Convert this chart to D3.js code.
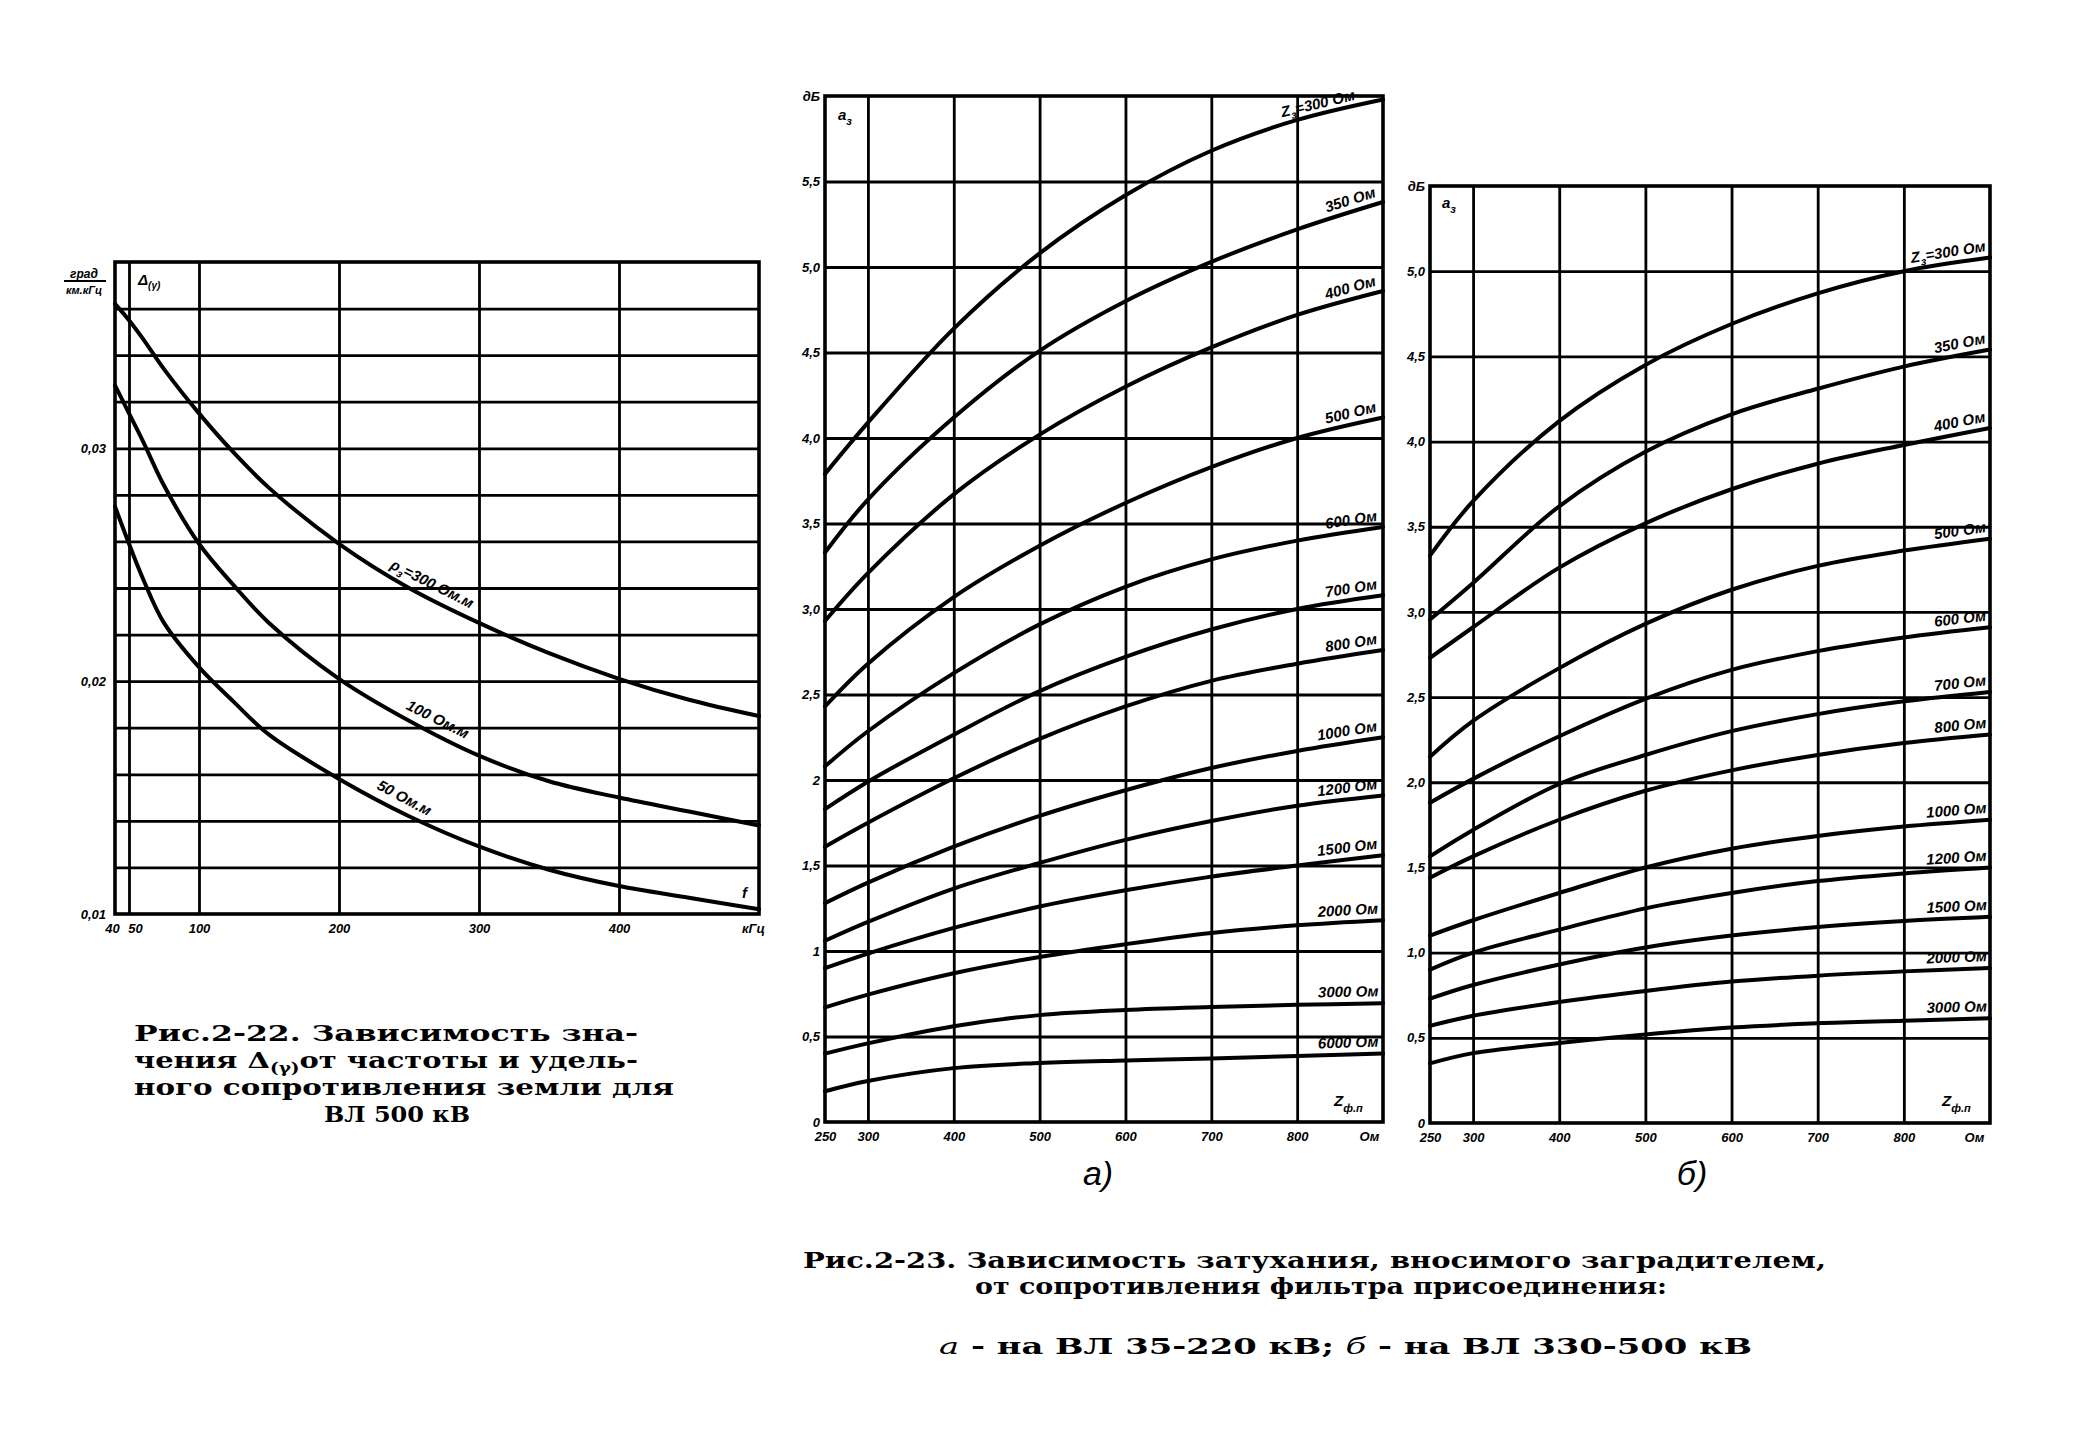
<!DOCTYPE html>
<html><head><meta charset="utf-8">
<script src="https://cdn.jsdelivr.net/npm/d3@7"></script>
<style>
html,body{margin:0;padding:0;background:#fff;}
svg{display:block;}
.tk text{font-family:"Liberation Sans",Arial,sans-serif;font-style:italic;font-weight:bold;font-size:13px;fill:#000;}
.lbl{font-family:"Liberation Sans",Arial,sans-serif;font-style:italic;font-weight:bold;font-size:15px;fill:#000;}
.cap{font-family:"DejaVu Serif",serif;font-weight:bold;font-size:22px;fill:#000;}
.sub{font-family:"Liberation Sans",Arial,sans-serif;font-style:italic;font-size:34px;fill:#000;}
</style></head><body>
<svg id="c" width="2094" height="1452"></svg>
<script>
// ---------- Fig. 2-22 : Δ(γ) vs frequency ----------
const freqKHz   = [40, 50, 60, 75, 100, 125, 150, 200, 250, 300, 350, 400, 450, 500];
const delta300  = [0.0362,0.0355,0.0347,0.0334,0.0315,0.0298,0.0283,0.0259,0.0240,0.0225,0.0212,0.0201,0.0192,0.0185];
const delta100  = [0.0327,0.0315,0.0303,0.0284,0.0259,0.0241,0.0225,0.0201,0.0183,0.0168,0.0157,0.0150,0.0144,0.0138];
const delta50   = [0.0275,0.0259,0.0244,0.0225,0.0206,0.0191,0.0177,0.0158,0.0142,0.0129,0.0119,0.0112,0.0107,0.0102];
const fig22Names = ["300 Ом.м", "100 Ом.м", "50 Ом.м"];
const fig22XTicks = [40, 50, 100, 200, 300, 400, 500];
const fig22XLabels = ["40", "50", "100", "200", "300", "400", "кГц"];
const fig22XGrid = [50, 100, 200, 300, 400];
const fig22YTicks = [0.01, 0.02, 0.03];
const fig22YLabels = ["0,01", "0,02", "0,03"];

// ---------- Fig. 2-23 a) : 35-220 kV ----------
const zfp = [250, 300, 400, 500, 600, 700, 800, 900];
const aNames = ["300 Ом","350 Ом","400 Ом","500 Ом","600 Ом","700 Ом","800 Ом","1000 Ом","1200 Ом","1500 Ом","2000 Ом","3000 Ом","6000 Ом"];
const a300  = [3.79, 4.09, 4.64, 5.08, 5.42, 5.68, 5.86, 5.98];
const a350  = [3.33, 3.64, 4.12, 4.51, 4.80, 5.03, 5.22, 5.38];
const a400  = [2.93, 3.21, 3.67, 4.02, 4.30, 4.53, 4.72, 4.86];
const a500  = [2.43, 2.68, 3.07, 3.37, 3.62, 3.83, 4.00, 4.12];
const a600  = [2.08, 2.285, 2.625, 2.91, 3.13, 3.29, 3.40, 3.48];
const a700  = [1.83, 1.99, 2.265, 2.52, 2.72, 2.88, 3.00, 3.08];
const a800  = [1.61, 1.75, 2.01, 2.24, 2.43, 2.58, 2.68, 2.76];
const a1000 = [1.28, 1.40, 1.61, 1.79, 1.94, 2.07, 2.17, 2.25];
const a1200 = [1.06, 1.17, 1.365, 1.515, 1.65, 1.76, 1.85, 1.91];
const a1500 = [0.90, 0.985, 1.135, 1.26, 1.355, 1.435, 1.50, 1.56];
const a2000 = [0.67, 0.745, 0.87, 0.965, 1.04, 1.105, 1.15, 1.18];
const a3000 = [0.40, 0.46, 0.56, 0.625, 0.655, 0.672, 0.685, 0.695];
const a6000 = [0.18, 0.24, 0.315, 0.345, 0.36, 0.372, 0.386, 0.40];

// ---------- Fig. 2-23 б) : 330-500 kV ----------
const bNames = ["300 Ом","350 Ом","400 Ом","500 Ом","600 Ом","700 Ом","800 Ом","1000 Ом","1200 Ом","1500 Ом","2000 Ом","3000 Ом"];
const b300  = [3.33, 3.65, 4.12, 4.45, 4.69, 4.87, 5.00, 5.08];
const b350  = [2.955, 3.17, 3.62, 3.94, 4.16, 4.31, 4.44, 4.54];
const b400  = [2.73, 2.91, 3.26, 3.52, 3.72, 3.87, 3.98, 4.08];
const b500  = [2.15, 2.36, 2.67, 2.93, 3.13, 3.27, 3.36, 3.43];
const b600  = [1.88, 2.02, 2.27, 2.49, 2.66, 2.77, 2.85, 2.91];
const b700  = [1.565, 1.72, 1.99, 2.16, 2.30, 2.40, 2.475, 2.53];
const b800  = [1.44, 1.565, 1.78, 1.95, 2.07, 2.16, 2.23, 2.28];
const b1000 = [1.10, 1.19, 1.35, 1.50, 1.61, 1.685, 1.74, 1.78];
const b1200 = [0.90, 1.00, 1.135, 1.26, 1.35, 1.42, 1.465, 1.50];
const b1500 = [0.73, 0.81, 0.93, 1.03, 1.10, 1.15, 1.185, 1.21];
const b2000 = [0.57, 0.63, 0.71, 0.775, 0.83, 0.865, 0.89, 0.91];
const b3000 = [0.35, 0.41, 0.47, 0.52, 0.56, 0.585, 0.60, 0.615];

const zXTicks = [250, 300, 400, 500, 600, 700, 800, 900];
const zXLabels = ["250", "300", "400", "500", "600", "700", "800", "Ом"];
const zXGrid = [300, 400, 500, 600, 700, 800];
const aYTicks = [0,0.5,1,1.5,2,2.5,3,3.5,4,4.5,5,5.5,6];
const aYLabels = ["0","0,5","1","1,5","2","2,5","3,0","3,5","4,0","4,5","5,0","5,5","дБ"];
const bYTicks = [0,0.5,1,1.5,2,2.5,3,3.5,4,4.5,5,5.5];
const bYLabels = ["0","0,5","1,0","1,5","2,0","2,5","3,0","3,5","4,0","4,5","5,0","дБ"];

// ================= drawing =================
const svg = d3.select("#c");
svg.append("rect").attr("width", 2094).attr("height", 1452).attr("fill", "#fff");

function drawPanel(cfg) {
  const {x, y, xGrid, yGrid, xTicks, xLabels, yTicks, yLabels} = cfg;
  const g = svg.append("g");
  const [x0, x1] = x.range(), [yb, yt] = y.range();
  g.append("g").attr("transform", `translate(0,${yb})`)
    .call(d3.axisBottom(x).tickValues(xGrid).tickSize(-(yb - yt)).tickFormat(""))
    .call(s => s.select(".domain").remove())
    .selectAll("line").attr("stroke", "#000").attr("stroke-width", 2.8);
  g.append("g").attr("transform", `translate(${x0},0)`)
    .call(d3.axisLeft(y).tickValues(yGrid).tickSize(-(x1 - x0)).tickFormat(""))
    .call(s => s.select(".domain").remove())
    .selectAll("line").attr("stroke", "#000").attr("stroke-width", 2.8);
  g.append("rect").attr("x", x0).attr("y", yt).attr("width", x1 - x0).attr("height", yb - yt)
    .attr("fill", "none").attr("stroke", "#000").attr("stroke-width", 3.6);
  const xa = g.append("g").attr("class", "tk").attr("transform", `translate(0,${yb})`)
    .call(d3.axisBottom(x).tickValues(xTicks).tickSize(0).tickPadding(10)
      .tickFormat((d, i) => xLabels[i]));
  xa.select(".domain").remove();
  const ya = g.append("g").attr("class", "tk").attr("transform", `translate(${x0},0)`)
    .call(d3.axisLeft(y).tickValues(yTicks).tickSize(0).tickPadding(5)
      .tickFormat((d, i) => yLabels[i]));
  ya.select(".domain").remove();
  return {g, xa, ya};
}

function drawCurves(g, x, y, xs, series) {
  const line = d3.line().x((d, i) => x(xs[i])).y(d => y(d)).curve(d3.curveCatmullRom.alpha(0.5));
  g.selectAll(null).data(series).enter().append("path")
    .attr("d", d => line(d)).attr("fill", "none").attr("stroke", "#000")
    .attr("stroke-width", 4).attr("stroke-linejoin", "round").attr("stroke-linecap", "round");
}

function interp(xs, ys, v) {
  let i = 0;
  while (i < xs.length - 2 && v > xs[i + 1]) i++;
  const t = (v - xs[i]) / (xs[i + 1] - xs[i]);
  return {val: ys[i] + t * (ys[i + 1] - ys[i]), i};
}

function curveLabel(g, x, y, xs, ys, at, anchor, parts, lift) {
  const {val, i} = interp(xs, ys, at);
  const px = x(at), py = y(val);
  const ang = Math.atan2(y(ys[i + 1]) - y(ys[i]), x(xs[i + 1]) - x(xs[i])) * 180 / Math.PI;
  const t = g.append("text").attr("class", "lbl").attr("text-anchor", anchor)
    .attr("transform", `translate(${px},${py}) rotate(${ang}) translate(0,${-lift})`);
  parts.forEach(p => {
    const s = t.append("tspan").text(p.t);
    if (p.sub) s.attr("font-size", 11).attr("dy", 4);
    if (p.back) s.attr("dy", -4);
  });
  return t;
}

// ---- Fig 2-22 ----
const x1 = d3.scaleLinear().domain([40, 500]).range([115, 759]);
const y1 = d3.scaleLinear().domain([0.01, 0.038]).range([914, 262]);
const p1 = drawPanel({x: x1, y: y1, xGrid: fig22XGrid,
  yGrid: d3.range(6, 19).map(k => +(k * 0.002).toFixed(3)),
  xTicks: fig22XTicks, xLabels: fig22XLabels, yTicks: fig22YTicks, yLabels: fig22YLabels});
p1.xa.selectAll(".tick").filter((d) => d === 40).select("text").attr("dx", -3);
p1.xa.selectAll(".tick").filter((d) => d === 50).select("text").attr("dx", 6);
p1.xa.selectAll(".tick").filter((d) => d === 500).select("text").attr("dx", -6);
p1.ya.selectAll("text").attr("dx", -4);
const fig22Series = [delta300, delta100, delta50];
drawCurves(p1.g, x1, y1, freqKHz, fig22Series);
curveLabel(p1.g, x1, y1, freqKHz, delta300, 262, "middle",
  [{t: "ρ"}, {t: "з", sub: true}, {t: "=" + fig22Names[0], back: true}], 9);
curveLabel(p1.g, x1, y1, freqKHz, delta100, 266, "middle", [{t: fig22Names[1]}], 9);
curveLabel(p1.g, x1, y1, freqKHz, delta50, 242, "middle", [{t: fig22Names[2]}], 9);
const ua = p1.g.append("g").attr("class", "lbl");
ua.append("text").attr("x", 84).attr("y", 278).attr("text-anchor", "middle").attr("font-size", 12).text("град");
ua.append("line").attr("x1", 64).attr("x2", 106).attr("y1", 281).attr("y2", 281).attr("stroke", "#000").attr("stroke-width", 2);
ua.append("text").attr("x", 84).attr("y", 294).attr("text-anchor", "middle").attr("font-size", 11).text("км.кГц");
const dl = p1.g.append("text").attr("class", "lbl").attr("x", 138).attr("y", 285).attr("font-size", 15);
dl.append("tspan").text("Δ");
dl.append("tspan").attr("font-size", 10).attr("dy", 4).text("(γ)");
p1.g.append("text").attr("class", "lbl").attr("x", 742).attr("y", 898).attr("font-size", 16).text("f");

// ---- Fig 2-23 a ----
const x2 = d3.scaleLinear().domain([250, 900]).range([825, 1383]);
const y2 = d3.scaleLinear().domain([0, 6]).range([1122, 96]);
const p2 = drawPanel({x: x2, y: y2, xGrid: zXGrid, yGrid: d3.range(1, 12).map(k => k * 0.5),
  xTicks: zXTicks, xLabels: zXLabels, yTicks: aYTicks, yLabels: aYLabels});
p2.xa.selectAll(".tick").filter(d => d === 900).select("text").attr("dx", -14);
const aSeries = [a300, a350, a400, a500, a600, a700, a800, a1000, a1200, a1500, a2000, a3000, a6000];
drawCurves(p2.g, x2, y2, zfp, aSeries);
aSeries.forEach((s, k) => {
  if (k === 0) curveLabel(p2.g, x2, y2, zfp, s, 870, "end",
    [{t: "Z"}, {t: "з", sub: true}, {t: "=" + aNames[0], back: true}], 6);
  else curveLabel(p2.g, x2, y2, zfp, s, 895, "end", [{t: aNames[k]}], 7);
});
const az = p2.g.append("text").attr("class", "lbl").attr("x", 838).attr("y", 120).attr("font-size", 16);
az.append("tspan").text("a"); az.append("tspan").attr("font-size", 11).attr("dy", 5).text("з");
const zf2 = p2.g.append("text").attr("class", "lbl").attr("x", 1334).attr("y", 1106).attr("font-size", 16);
zf2.append("tspan").text("Z"); zf2.append("tspan").attr("font-size", 11).attr("dy", 6).text("ф.п");

// ---- Fig 2-23 b ----
const x3 = d3.scaleLinear().domain([250, 900]).range([1430, 1990]);
const y3 = d3.scaleLinear().domain([0, 5.5]).range([1123, 186]);
const p3 = drawPanel({x: x3, y: y3, xGrid: zXGrid, yGrid: d3.range(1, 11).map(k => k * 0.5),
  xTicks: zXTicks, xLabels: zXLabels, yTicks: bYTicks, yLabels: bYLabels});
p3.xa.selectAll(".tick").filter(d => d === 900).select("text").attr("dx", -16);
const bSeries = [b300, b350, b400, b500, b600, b700, b800, b1000, b1200, b1500, b2000, b3000];
drawCurves(p3.g, x3, y3, zfp, bSeries);
bSeries.forEach((s, k) => {
  if (k === 0) curveLabel(p3.g, x3, y3, zfp, s, 897, "end",
    [{t: "Z"}, {t: "з", sub: true}, {t: "=" + bNames[0], back: true}], 7);
  else curveLabel(p3.g, x3, y3, zfp, s, 897, "end", [{t: bNames[k]}], 7);
});
const bz = p3.g.append("text").attr("class", "lbl").attr("x", 1442).attr("y", 208).attr("font-size", 16);
bz.append("tspan").text("a"); bz.append("tspan").attr("font-size", 11).attr("dy", 5).text("з");
const zf3 = p3.g.append("text").attr("class", "lbl").attr("x", 1942).attr("y", 1106).attr("font-size", 16);
zf3.append("tspan").text("Z"); zf3.append("tspan").attr("font-size", 11).attr("dy", 6).text("ф.п");

// ---- sub-figure letters ----
svg.append("text").attr("class", "sub").attr("x", 1098).attr("y", 1185).attr("text-anchor", "middle").text("а)");
svg.append("text").attr("class", "sub").attr("x", 1692).attr("y", 1185).attr("text-anchor", "middle").text("б)");

// ---- captions ----
function capLine(x, y, len, build) {
  const t = svg.append("text").attr("class", "cap").attr("x", x).attr("y", y)
    .attr("textLength", len).attr("lengthAdjust", "spacingAndGlyphs");
  build(t);
}
capLine(134, 1041, 504, t => t.text("Рис.2-22. Зависимость зна-"));
capLine(134, 1068, 504, t => {
  t.append("tspan").text("чения Δ");
  t.append("tspan").attr("font-size", 14).attr("dy", 5).text("(γ)");
  t.append("tspan").attr("dy", -5).text("от частоты и удель-");
});
capLine(134, 1095, 540, t => t.text("ного сопротивления земли для"));
capLine(324, 1122, 146, t => t.text("ВЛ 500 кВ"));

capLine(803, 1268, 1023, t => t.text("Рис.2-23. Зависимость затухания, вносимого заградителем,"));
capLine(975, 1294, 692, t => t.text("от сопротивления фильтра присоединения:"));
capLine(939, 1354, 813, t => {
  t.append("tspan").attr("font-style", "italic").attr("font-weight", "normal").text("а");
  t.append("tspan").text(" - на  ВЛ 35-220 кВ;  ");
  t.append("tspan").attr("font-style", "italic").attr("font-weight", "normal").text("б");
  t.append("tspan").text(" - на ВЛ 330-500 кВ");
});
</script>
</body></html>
